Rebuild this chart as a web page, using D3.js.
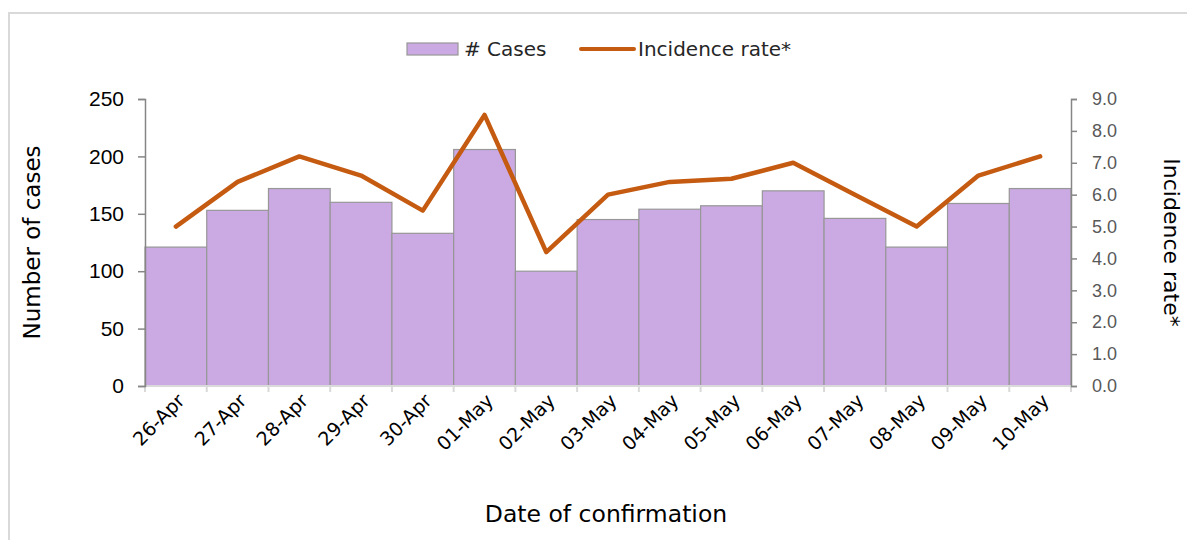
<!DOCTYPE html>
<meta charset="utf-8">
<style>
body { margin: 0; background: #fff; }
svg { font-family: "DejaVu Sans", Verdana, sans-serif; }
.y.axis path, .y.axis line, .y2.axis path, .y2.axis line { stroke: #868686; stroke-width: 1.5px; }
.x.axis path, .x.axis line { stroke: #d9d9d9; stroke-width: 2px; }
</style>
<div id="chart"></div>
<script src="https://d3js.org/d3.v7.min.js"></script>
<script>

// data
var dates = ["26-Apr", "27-Apr", "28-Apr", "29-Apr", "30-Apr", "01-May", "02-May", "03-May",
             "04-May", "05-May", "06-May", "07-May", "08-May", "09-May", "10-May"];
var cases = [121, 153, 172, 160, 133, 206, 100, 145, 154, 157, 170, 146, 121, 159, 172];
var incidence = [5.0, 6.4, 7.2, 6.6, 5.5, 8.5, 4.2, 6.0, 6.4, 6.5, 7.0, 6.0, 5.0, 6.6, 7.2];
var leftTicks = [0, 50, 100, 150, 200, 250];
var rightTicks = [0, 1, 2, 3, 4, 5, 6, 7, 8, 9];

var W = 1187, H = 540;
var margin = {top: 99, right: 116, bottom: 154, left: 145};
var width = W - margin.left - margin.right,
    height = H - margin.top - margin.bottom;

var svg = d3.select("#chart").append("svg")
  .attr("width", W)
  .attr("height", H);

// chart frame (only top and left edges show in the picture)
svg.append("path")
  .attr("d", "M9,540 V13 H1187")
  .attr("fill", "none")
  .attr("stroke", "#d9d9d9")
  .attr("stroke-width", 2);

var g = svg.append("g")
  .attr("transform", "translate(" + margin.left + "," + margin.top + ")");

var x = d3.scaleBand().domain(dates).range([0, width]).padding(0);
var y = d3.scaleLinear().domain([0, 250]).range([height, 0]);
var y2 = d3.scaleLinear().domain([0, 9]).range([height, 0]);

// bars
g.selectAll(".bar")
  .data(cases)
  .enter().append("rect")
  .attr("class", "bar")
  .attr("x", function(d, i) { return x(dates[i]); })
  .attr("width", x.bandwidth())
  .attr("y", function(d) { return y(d); })
  .attr("height", function(d) { return height - y(d); })
  .attr("fill", "#cbaae3")
  .attr("stroke", "#979797")
  .attr("stroke-width", 1.2);

// x axis: ticks at band boundaries
var xAxis = g.append("g")
  .attr("class", "x axis")
  .attr("transform", "translate(0," + height + ")");
xAxis.append("line")
  .attr("x1", 0).attr("x2", width).attr("y1", 0).attr("y2", 0);
xAxis.selectAll(".tk")
  .data(dates.concat(["end"]))
  .enter().append("line")
  .attr("class", "tk")
  .attr("x1", function(d, i) { return i * x.step(); })
  .attr("x2", function(d, i) { return i * x.step(); })
  .attr("y1", 0).attr("y2", 6);
xAxis.selectAll("text")
  .data(dates)
  .enter().append("text")
  .attr("transform", function(d) {
    return "translate(" + (x(d) + x.bandwidth() / 2 + 10) + ",16) rotate(-45)";
  })
  .attr("text-anchor", "end")
  .attr("fill", "#000")
  .style("font-size", "19px")
  .text(function(d) { return d; });

// left axis
var yAxis = g.append("g")
  .attr("class", "y axis")
  .call(d3.axisLeft(y).tickValues(leftTicks).tickSize(7).tickSizeOuter(7).tickPadding(14));
yAxis.selectAll("text").style("font-size", "21px").attr("fill", "#000");

// right axis
var y2Axis = g.append("g")
  .attr("class", "y2 axis")
  .attr("transform", "translate(" + width + ",0)")
  .call(d3.axisRight(y2).tickValues(rightTicks).tickSize(6).tickSizeOuter(6).tickPadding(15)
    .tickFormat(d3.format(".1f")));
y2Axis.selectAll("text").style("font-size", "18px").attr("fill", "#595959");

// incidence line
var line = d3.line()
  .x(function(d, i) { return x(dates[i]) + x.bandwidth() / 2; })
  .y(function(d) { return y2(d); });

g.append("path")
  .datum(incidence)
  .attr("fill", "none")
  .attr("stroke", "#c55a11")
  .attr("stroke-width", 4.5)
  .attr("stroke-linejoin", "round")
  .attr("stroke-linecap", "round")
  .attr("d", line);

// axis titles
svg.append("text")
  .attr("transform", "translate(40," + (margin.top + height / 2) + ") rotate(-90)")
  .attr("text-anchor", "middle")
  .style("font-size", "23px")
  .text("Number of cases");

svg.append("text")
  .attr("transform", "translate(1164," + (margin.top + height / 2) + ") rotate(90)")
  .attr("text-anchor", "middle")
  .style("font-size", "22px")
  .text("Incidence rate*");

svg.append("text")
  .attr("x", 606)
  .attr("y", 522)
  .attr("text-anchor", "middle")
  .style("font-size", "23.5px")
  .text("Date of confirmation");

// legend
var legend = svg.append("g").style("font-size", "20px");
legend.append("rect")
  .attr("x", 407).attr("y", 43).attr("width", 51).attr("height", 12)
  .attr("fill", "#cbaae3").attr("stroke", "#979797").attr("stroke-width", 1.2);
legend.append("text")
  .attr("x", 464).attr("y", 56).attr("fill", "#262626")
  .text("# Cases");
legend.append("line")
  .attr("x1", 581).attr("x2", 634).attr("y1", 49).attr("y2", 49)
  .attr("stroke", "#c55a11").attr("stroke-width", 4).attr("stroke-linecap", "round");
legend.append("text")
  .attr("x", 638).attr("y", 56).attr("fill", "#262626")
  .text("Incidence rate*");

</script>
